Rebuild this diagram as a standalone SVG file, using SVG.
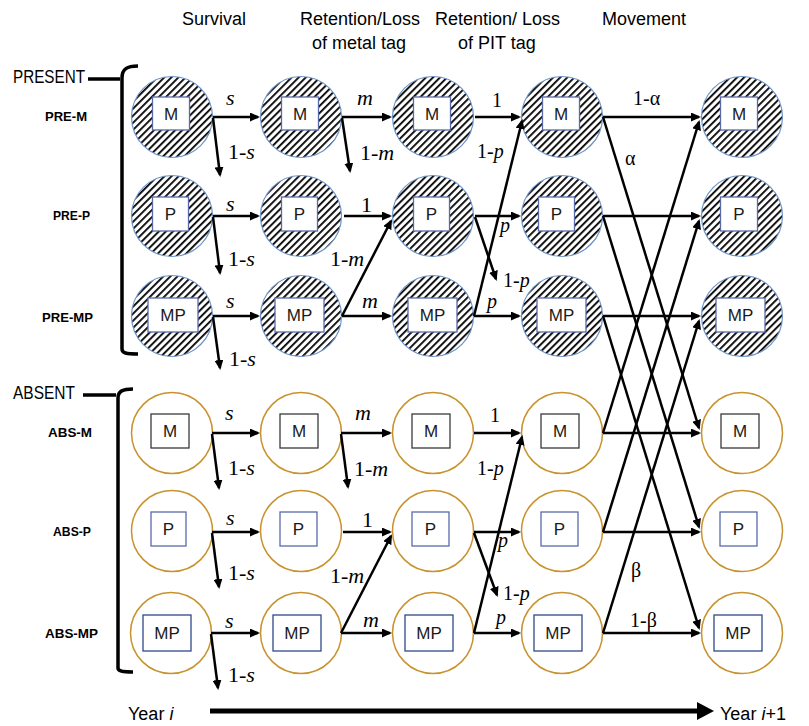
<svg xmlns="http://www.w3.org/2000/svg" width="809" height="726" viewBox="0 0 809 726">
<defs>
<pattern id="hatch" patternUnits="userSpaceOnUse" width="5" height="10" patternTransform="rotate(45)">
<rect width="5" height="10" fill="#fff"/><rect width="1.8" height="10" fill="#000"/>
</pattern>
<marker id="ah" viewBox="0 0 10 9" refX="8" refY="4.5" markerWidth="10" markerHeight="9" markerUnits="userSpaceOnUse" orient="auto"><path d="M0,0L10,4.5L0,9z" fill="#000"/></marker>
<style>
.pc{fill:url(#hatch);stroke:#6f95c9;stroke-width:1.2}
.ac{fill:#fff;stroke:#c8922c;stroke-width:1.5}
.pb{fill:#fff;stroke:#5a6aa8;stroke-width:1.3}
.bm{fill:#fff;stroke:#3a3a3a;stroke-width:1.3}
.bn{fill:#fff;stroke:#2f4a8a;stroke-width:1.3}
.bt{font-family:"Liberation Sans",Arial,sans-serif;font-size:17px;text-anchor:middle;fill:#1a1a1a}
.cn path{fill:none;stroke:#000;stroke-width:2.5;marker-end:url(#ah)}
.lb{font-family:"Liberation Serif","Times New Roman",serif;font-size:22px;fill:#000}
.lg{font-family:"Liberation Serif","Times New Roman",serif;font-size:20px;fill:#000}
.it{font-style:italic}
.hd{font-family:"Liberation Sans",Arial,sans-serif;font-size:18px;fill:#000}
.rl{font-family:"Liberation Sans",Arial,sans-serif;font-size:12.5px;font-weight:bold;fill:#000}
.br{fill:none;stroke:#000;stroke-width:3.5}
</style>
</defs>
<rect width="809" height="726" fill="#fff"/>

<g id="headers">
<text class="hd" x="182" y="25">Survival</text>
<text class="hd" x="300" y="25">Retention/Loss</text>
<text class="hd" x="312" y="49">of metal tag</text>
<text class="hd" x="435" y="25">Retention/ Loss</text>
<text class="hd" x="458" y="49">of PIT tag</text>
<text class="hd" x="602" y="25">Movement</text>
</g>

<g id="brackets">
<text class="hd" x="13" y="83" font-size="19" textLength="72" lengthAdjust="spacingAndGlyphs">PRESENT</text>
<path class="br" d="M88,79 L120,79"/>
<path class="br" d="M138,66 C127,66 122,69 122,78 L122,349 C122,353 126,354 138,354"/>
<text class="hd" x="13" y="399" font-size="19" textLength="62" lengthAdjust="spacingAndGlyphs">ABSENT</text>
<path class="br" d="M83,395 L116,395"/>
<path class="br" d="M133,389 C123,389 118,391 118,398 L118,668 C118,671 122,672 133,672"/>
<text class="rl" x="45" y="121" textLength="42" lengthAdjust="spacingAndGlyphs">PRE-M</text>
<text class="rl" x="53" y="220" textLength="37" lengthAdjust="spacingAndGlyphs">PRE-P</text>
<text class="rl" x="42" y="322" textLength="51" lengthAdjust="spacingAndGlyphs">PRE-MP</text>
<text class="rl" x="48" y="437" textLength="44" lengthAdjust="spacingAndGlyphs">ABS-M</text>
<text class="rl" x="53" y="536" textLength="38" lengthAdjust="spacingAndGlyphs">ABS-P</text>
<text class="rl" x="45" y="638" textLength="53" lengthAdjust="spacingAndGlyphs">ABS-MP</text>
</g>

<g id="pre-m-1"><circle class="pc" cx="172" cy="117" r="40.5"/><rect class="pb" x="152.5" y="97" width="37" height="33"/><text class="bt" x="171" y="120">M</text></g>
<g id="pre-m-2"><circle class="pc" cx="301" cy="117" r="40.5"/><rect class="pb" x="281.5" y="97" width="37" height="33"/><text class="bt" x="300" y="120">M</text></g>
<g id="pre-m-3"><circle class="pc" cx="433" cy="117" r="40.5"/><rect class="pb" x="413.5" y="97" width="37" height="33"/><text class="bt" x="432" y="120">M</text></g>
<g id="pre-m-4"><circle class="pc" cx="562" cy="117" r="40.5"/><rect class="pb" x="542.5" y="97" width="37" height="33"/><text class="bt" x="561" y="120">M</text></g>
<g id="pre-m-5"><circle class="pc" cx="742" cy="117" r="40.5"/><rect class="pb" x="720.5" y="97" width="37" height="33"/><text class="bt" x="739" y="120">M</text></g>

<g id="pre-p-1"><circle class="pc" cx="172" cy="216" r="40.5"/><rect class="pb" x="152.5" y="197" width="36" height="34"/><text class="bt" x="170.5" y="220">P</text></g>
<g id="pre-p-2"><circle class="pc" cx="301" cy="216" r="40.5"/><rect class="pb" x="281.5" y="197" width="36" height="34"/><text class="bt" x="299.5" y="220">P</text></g>
<g id="pre-p-3"><circle class="pc" cx="433" cy="216" r="40.5"/><rect class="pb" x="413.5" y="197" width="36" height="34"/><text class="bt" x="431.5" y="220">P</text></g>
<g id="pre-p-4"><circle class="pc" cx="562" cy="216" r="40.5"/><rect class="pb" x="538.5" y="197" width="36" height="34"/><text class="bt" x="556.5" y="220">P</text></g>
<g id="pre-p-5"><circle class="pc" cx="742" cy="216" r="40.5"/><rect class="pb" x="720.5" y="197" width="37" height="34"/><text class="bt" x="739" y="220">P</text></g>

<g id="pre-mp-1"><circle class="pc" cx="172" cy="316" r="40.5"/><rect class="pb" x="148" y="298" width="50" height="34"/><text class="bt" x="173" y="321">MP</text></g>
<g id="pre-mp-2"><circle class="pc" cx="301" cy="316" r="40.5"/><rect class="pb" x="275" y="298" width="49" height="34"/><text class="bt" x="299.5" y="321">MP</text></g>
<g id="pre-mp-3"><circle class="pc" cx="433" cy="316" r="40.5"/><rect class="pb" x="408" y="298" width="49" height="34"/><text class="bt" x="432.5" y="321">MP</text></g>
<g id="pre-mp-4"><circle class="pc" cx="562" cy="316" r="40.5"/><rect class="pb" x="537" y="298" width="49" height="34"/><text class="bt" x="561.5" y="321">MP</text></g>
<g id="pre-mp-5"><circle class="pc" cx="742" cy="316" r="40.5"/><rect class="pb" x="716" y="298" width="49" height="34"/><text class="bt" x="740.5" y="321">MP</text></g>

<g id="abs-m-1"><circle class="ac" cx="172" cy="433" r="40.5"/><rect class="bm" x="151" y="414" width="38" height="34"/><text class="bt" x="170" y="437">M</text></g>
<g id="abs-m-2"><circle class="ac" cx="301" cy="433" r="40.5"/><rect class="bm" x="280" y="414" width="38" height="34"/><text class="bt" x="299" y="437">M</text></g>
<g id="abs-m-3"><circle class="ac" cx="433" cy="433" r="40.5"/><rect class="bm" x="412" y="414" width="38" height="34"/><text class="bt" x="431" y="437">M</text></g>
<g id="abs-m-4"><circle class="ac" cx="562" cy="433" r="40.5"/><rect class="bm" x="541" y="414" width="38" height="34"/><text class="bt" x="560" y="437">M</text></g>
<g id="abs-m-5"><circle class="ac" cx="742" cy="433" r="40.5"/><rect class="bm" x="721" y="414" width="38" height="34"/><text class="bt" x="740" y="437">M</text></g>

<g id="abs-p-1"><circle class="ac" cx="172" cy="531" r="40.5"/><rect class="pb" x="151" y="512" width="35" height="34"/><text class="bt" x="168.5" y="535">P</text></g>
<g id="abs-p-2"><circle class="ac" cx="301" cy="531" r="40.5"/><rect class="pb" x="280" y="512" width="37" height="34"/><text class="bt" x="298.5" y="535">P</text></g>
<g id="abs-p-3"><circle class="ac" cx="433" cy="531" r="40.5"/><rect class="pb" x="412" y="512" width="37" height="34"/><text class="bt" x="430.5" y="535">P</text></g>
<g id="abs-p-4"><circle class="ac" cx="562" cy="531" r="40.5"/><rect class="pb" x="541" y="512" width="37" height="34"/><text class="bt" x="559.5" y="535">P</text></g>
<g id="abs-p-5"><circle class="ac" cx="742" cy="531" r="40.5"/><rect class="pb" x="720" y="512" width="37" height="34"/><text class="bt" x="738.5" y="535">P</text></g>

<g id="abs-mp-1"><circle class="ac" cx="171" cy="633" r="40.5"/><rect class="bn" x="143" y="615" width="48" height="36"/><text class="bt" x="167" y="639">MP</text></g>
<g id="abs-mp-2"><circle class="ac" cx="301" cy="633" r="40.5"/><rect class="bn" x="273" y="615" width="48" height="36"/><text class="bt" x="297" y="639">MP</text></g>
<g id="abs-mp-3"><circle class="ac" cx="433" cy="633" r="40.5"/><rect class="bn" x="405" y="615" width="48" height="36"/><text class="bt" x="429" y="639">MP</text></g>
<g id="abs-mp-4"><circle class="ac" cx="562" cy="633" r="40.5"/><rect class="bn" x="534" y="615" width="48" height="36"/><text class="bt" x="558" y="639">MP</text></g>
<g id="abs-mp-5"><circle class="ac" cx="742" cy="633" r="40.5"/><rect class="bn" x="714" y="615" width="48" height="36"/><text class="bt" x="738" y="639">MP</text></g>

<g id="connectors" class="cn">
<path d="M213,117 L258,117"/><path d="M213,118 L220,175"/>
<path d="M213,216 L258,216"/><path d="M213,217 L220,273"/>
<path d="M213,316 L258,316"/><path d="M213,317 L220,368"/>
<path d="M212,433 L258,433"/><path d="M212,434 L219,488"/>
<path d="M212,532 L258,532"/><path d="M212,533 L219,587"/>
<path d="M211,633 L258,633"/><path d="M211,634 L218,688"/>

<path d="M342,117 L390,117"/><path d="M342,118 L350,171"/>
<path d="M344,216 L390,216"/>
<path d="M342,316 L390,316"/><path d="M342,316 L391,221"/>
<path d="M341,433 L390,433"/><path d="M341,434 L348,487"/>
<path d="M343,532 L390,532"/>
<path d="M341,633 L390,633"/><path d="M341,633 L391,536"/>

<path d="M475,117 L519,117"/>
<path d="M474,316 L522,121"/>
<path d="M475,216 L519,216"/><path d="M475,217 L496,279"/>
<path d="M474,316 L519,316"/>
<path d="M474,433 L519,433"/>
<path d="M474,633 L522,437"/>
<path d="M474,532 L519,532"/><path d="M474,533 L497,595"/>
<path d="M474,633 L519,633"/>

<path d="M603,117 L699,117"/><path d="M603,216 L699,216"/><path d="M603,316 L699,316"/>
<path d="M603,433 L699,433"/><path d="M603,532 L699,532"/><path d="M603,633 L699,633"/>
<path d="M603,117 L699,428"/><path d="M603,216 L699,527"/><path d="M603,316 L699,628"/>
<path d="M603,433 L699,122"/><path d="M603,532 L699,221"/><path d="M603,633 L699,321"/>
</g>

<g id="labels">
<text class="lb it" x="226" y="105">s</text>
<text class="lb" x="228" y="159">1-<tspan class="it">s</tspan></text>
<text class="lb it" x="226" y="211">s</text>
<text class="lb" x="228" y="266">1-<tspan class="it">s</tspan></text>
<text class="lb it" x="226" y="308">s</text>
<text class="lb" x="229" y="366">1-<tspan class="it">s</tspan></text>
<text class="lb it" x="225" y="420">s</text>
<text class="lb" x="228" y="475">1-<tspan class="it">s</tspan></text>
<text class="lb it" x="226" y="525">s</text>
<text class="lb" x="228" y="580">1-<tspan class="it">s</tspan></text>
<text class="lb it" x="225" y="628">s</text>
<text class="lb" x="228" y="682">1-<tspan class="it">s</tspan></text>

<text class="lb it" x="357" y="105">m</text>
<text class="lb" x="360" y="160">1-<tspan class="it">m</tspan></text>
<text class="lb" x="361" y="212">1</text>
<text class="lb" x="330" y="266">1-<tspan class="it">m</tspan></text>
<text class="lb it" x="362" y="308">m</text>
<text class="lb it" x="355" y="420">m</text>
<text class="lb" x="354" y="476">1-<tspan class="it">m</tspan></text>
<text class="lb" x="362" y="527">1</text>
<text class="lb" x="330" y="583">1-<tspan class="it">m</tspan></text>
<text class="lb it" x="363" y="627">m</text>

<text class="lg" x="492" y="107">1</text>
<text class="lg" x="477" y="158">1-<tspan class="it">p</tspan></text>
<text class="lg it" x="500" y="232">p</text>
<text class="lg" x="503" y="287">1-<tspan class="it">p</tspan></text>
<text class="lg it" x="487" y="308">p</text>
<text class="lg" x="490" y="422">1</text>
<text class="lg" x="477" y="475">1-<tspan class="it">p</tspan></text>
<text class="lg it" x="498" y="547">p</text>
<text class="lg" x="503" y="600">1-<tspan class="it">p</tspan></text>
<text class="lg it" x="496" y="624">p</text>

<text class="lg" x="633" y="105">1-α</text>
<text class="lg" x="625" y="165">α</text>
<text class="lg" x="631" y="577">β</text>
<text class="lg" x="630" y="627">1-β</text>
</g>

<g id="axis">
<text class="hd" x="128" y="720" font-size="22">Year <tspan class="it">i</tspan></text>
<path d="M210,711 L699,711" stroke="#000" stroke-width="5" fill="none"/>
<path d="M697,702 L714,711 L697,720 z" fill="#000"/>
<text class="hd" x="720" y="720" font-size="22">Year <tspan class="it">i</tspan>+1</text>
</g>
</svg>
